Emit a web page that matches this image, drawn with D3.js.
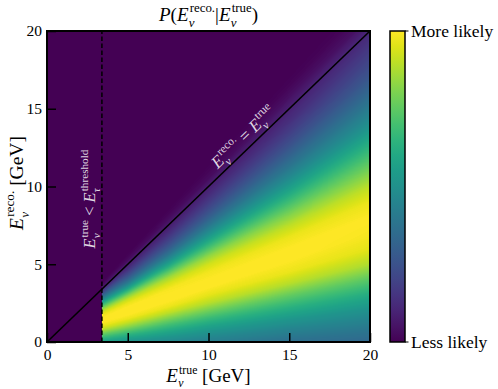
<!DOCTYPE html>
<html>
<script src="https://d3js.org/d3.v7.min.js"></script>
<style>
  body {margin: 0; background: white; }
  text {font-family: "Liberation Serif", "DejaVu Serif", serif; }
</style>
<body>
<svg id="chart" width="498" height="389"></svg>
<script>
// axis ticks
const xTicks = [0, 5, 10, 15, 20];
const yTicks = [0, 5, 10, 15, 20];
// tau threshold energy (GeV)
const threshold = 3.4;
// likelihood table: columns of true energy, rows of reco/true ratio
const trueE = [3.4, 5, 7.5, 10, 15, 20];
const ratio = [0, 0.05, 0.1, 0.15, 0.2, 0.25, 0.3, 0.35, 0.4, 0.45, 0.5, 0.55,
               0.6, 0.65, 0.7, 0.75, 0.8, 0.85, 0.9, 0.95, 1.0, 1.05, 1.1, 1.15];
const likelihood = [
  [0.56,0.62,0.69,0.76,0.84,0.91,0.96,0.99,1.0,1.0,0.98,0.94,0.87,0.78,0.68,0.57,0.46,0.36,0.27,0.18,0.1,0.04,0.01,0],
  [0.5,0.57,0.65,0.74,0.83,0.91,0.97,1.0,1.0,1.0,0.97,0.91,0.81,0.68,0.55,0.43,0.33,0.25,0.18,0.12,0.08,0.03,0.01,0],
  [0.46,0.53,0.61,0.7,0.8,0.9,0.97,1.0,1.0,0.99,0.94,0.86,0.74,0.61,0.49,0.38,0.29,0.22,0.16,0.11,0.07,0.03,0.01,0],
  [0.42,0.49,0.57,0.67,0.78,0.89,0.96,1.0,1.0,0.98,0.93,0.84,0.72,0.6,0.49,0.39,0.3,0.23,0.17,0.12,0.08,0.03,0.01,0],
  [0.36,0.44,0.53,0.64,0.76,0.89,0.97,1.0,1.0,0.97,0.9,0.8,0.69,0.58,0.48,0.39,0.31,0.24,0.18,0.13,0.09,0.04,0.01,0],
  [0.33,0.41,0.5,0.61,0.74,0.88,0.96,0.99,1.0,0.97,0.9,0.8,0.7,0.6,0.5,0.42,0.34,0.27,0.21,0.16,0.11,0.04,0.01,0]
];
const cbarLabels = ["More likely", "Less likely"];

const svg = d3.select("#chart");
const pLeft = 47, pRight = 370, pTop = 31, pBottom = 342;

const x = d3.scaleLinear().domain([0, 20]).range([pLeft, pRight]);
const y = d3.scaleLinear().domain([0, 20]).range([pBottom, pTop]);

// heat map drawn into a canvas, then placed into the svg
const pw = pRight - pLeft, ph = pBottom - pTop;
const canvas = document.createElement("canvas");
canvas.width = pw; canvas.height = ph;
const ctx = canvas.getContext("2d");
const img = ctx.createImageData(pw, ph);

const colIdx = d3.scaleLinear().domain(trueE).range(d3.range(trueE.length)).clamp(true);
const rowIdx = d3.scaleLinear().domain(ratio).range(d3.range(ratio.length)).clamp(true);

function lookup(t, r) {
  if (t < threshold) return 0;
  const u = r / t;
  if (u > ratio[ratio.length - 1]) return 0;
  const ci = colIdx(t), ri = rowIdx(u);
  const c0 = Math.floor(ci), c1 = Math.min(c0 + 1, trueE.length - 1), fc = ci - c0;
  const r0 = Math.floor(ri), r1 = Math.min(r0 + 1, ratio.length - 1), fr = ri - r0;
  const a = likelihood[c0][r0] * (1 - fr) + likelihood[c0][r1] * fr;
  const b = likelihood[c1][r0] * (1 - fr) + likelihood[c1][r1] * fr;
  return a * (1 - fc) + b * fc;
}

for (let py = 0; py < ph; py++) {
  for (let px = 0; px < pw; px++) {
    const t = x.invert(pLeft + px + 0.5);
    const r = y.invert(pTop + py + 0.5);
    const c = d3.rgb(d3.interpolateViridis(lookup(t, r)));
    const k = (py * pw + px) * 4;
    img.data[k] = c.r; img.data[k + 1] = c.g; img.data[k + 2] = c.b; img.data[k + 3] = 255;
  }
}
ctx.putImageData(img, 0, 0);

svg.append("image")
  .attr("x", pLeft).attr("y", pTop)
  .attr("width", pw).attr("height", ph)
  .attr("href", canvas.toDataURL());

// diagonal and threshold lines
svg.append("line")
  .attr("x1", x(0)).attr("y1", y(0))
  .attr("x2", x(20)).attr("y2", y(20))
  .attr("stroke", "black").attr("stroke-width", 1.6);

svg.append("line")
  .attr("x1", x(threshold)).attr("y1", y(0))
  .attr("x2", x(threshold)).attr("y2", y(20))
  .attr("stroke", "black").attr("stroke-width", 1.5)
  .attr("stroke-dasharray", "4.5,2.5");

// axes with inward ticks
const xAxis = svg.append("g")
  .attr("transform", `translate(0,${pBottom})`)
  .call(d3.axisBottom(x).tickValues(xTicks).tickSize(-9).tickPadding(7).tickFormat(d3.format("d")));
const yAxis = svg.append("g")
  .attr("transform", `translate(${pLeft},0)`)
  .call(d3.axisLeft(y).tickValues(yTicks).tickSize(-9).tickPadding(5).tickFormat(d3.format("d")));

[xAxis, yAxis].forEach(g => {
  g.select(".domain").remove();
  g.selectAll("line").attr("stroke", "black").attr("stroke-width", 1.5);
  g.selectAll("text").attr("font-size", 15.5).attr("fill", "black")
    .attr("font-family", "'Liberation Serif', serif");
});

svg.append("rect")
  .attr("x", pLeft).attr("y", pTop)
  .attr("width", pw).attr("height", ph)
  .attr("fill", "none").attr("stroke", "black").attr("stroke-width", 2);

// math-like labels: E with superscript and subscript
function mathText(g, parts, size, fill, opt) {
  const k = opt.k, up = opt.up, down = opt.down;
  let cx = 0;
  const add = (str, fs, italic, dy, xpos) => {
    const t = g.append("text")
      .attr("x", xpos).attr("y", dy)
      .attr("font-size", fs)
      .attr("font-style", italic ? "italic" : "normal")
      .attr("fill", fill)
      .style("white-space", "pre")
      .text(str);
    return t.node().getComputedTextLength();
  };
  parts.forEach(p => {
    if (p.sup || p.sub) {
      const w = add(p.t, size, true, 0, cx);
      const ws = add(p.sup, size * k, false, -size * up, cx + w + size * 0.06);
      const wb = add(p.sub, size * k, true, size * down, cx + w + size * 0.01);
      cx += w + Math.max(ws + size * 0.06, wb + size * 0.01);
    } else {
      cx += add(p.t, size, p.it, 0, cx);
    }
  });
  return cx;
}

const script = {k: 0.68, up: 0.44, down: 0.32};

function placeMath(parts, size, cx, cy, angle, fill, opt) {
  const outer = svg.append("g").attr("transform", `translate(${cx},${cy}) rotate(${angle})`);
  const inner = outer.append("g");
  const w = mathText(inner, parts, size, fill, opt || script);
  inner.attr("transform", `translate(${-w / 2},0)`);
}

placeMath([{t: "P", it: true}, {t: "("}, {t: "E", sup: "reco.", sub: "ν"}, {t: "|"},
  {t: "E", sup: "true", sub: "ν"}, {t: ")"}], 19, (pLeft + pRight) / 2, 20.5, 0, "black");

placeMath([{t: "E", sup: "true", sub: "ν"}, {t: " [GeV]"}], 19, (pLeft + pRight) / 2, 382, 0, "black",
  {k: 0.62, up: 0.44, down: 0.26});

placeMath([{t: "E", sup: "reco.", sub: "ν"}, {t: " [GeV]"}], 19.5, 22.5, 183, -90, "black");

placeMath([{t: "E", sup: "reco.", sub: "ν"}, {t: " = "}, {t: "E", sup: "true", sub: "ν"}],
  17, 247, 141, -44, "rgba(255,255,255,0.85)");

placeMath([{t: "E", sup: "true", sub: "ν"}, {t: " < "}, {t: "E", sup: "threshold", sub: "τ"}],
  16.5, 95, 199, -90, "rgba(255,255,255,0.85)");

// colour bar
const cbX = 390, cbW = 15;
const grad = svg.append("defs").append("linearGradient")
  .attr("id", "viridis").attr("x1", 0).attr("y1", 1).attr("x2", 0).attr("y2", 0);
d3.range(0, 1.0001, 0.05).forEach(s => {
  grad.append("stop").attr("offset", s).attr("stop-color", d3.interpolateViridis(s));
});
svg.append("rect")
  .attr("x", cbX).attr("y", pTop).attr("width", cbW).attr("height", ph)
  .attr("fill", "url(#viridis)").attr("stroke", "black").attr("stroke-width", 1.5);

const cbY = d3.scaleLinear().domain([0, 1]).range([pBottom, pTop]);
[1, 0].forEach((v, i) => {
  svg.append("line")
    .attr("x1", cbX + cbW).attr("x2", cbX + cbW + 3.5)
    .attr("y1", cbY(v)).attr("y2", cbY(v))
    .attr("stroke", "black").attr("stroke-width", 1);
  svg.append("text")
    .attr("x", cbX + cbW + 6).attr("y", cbY(v))
    .attr("dy", "0.32em")
    .attr("font-size", 17.5)
    .text(cbarLabels[i]);
});
</script>
</body>
</html>
